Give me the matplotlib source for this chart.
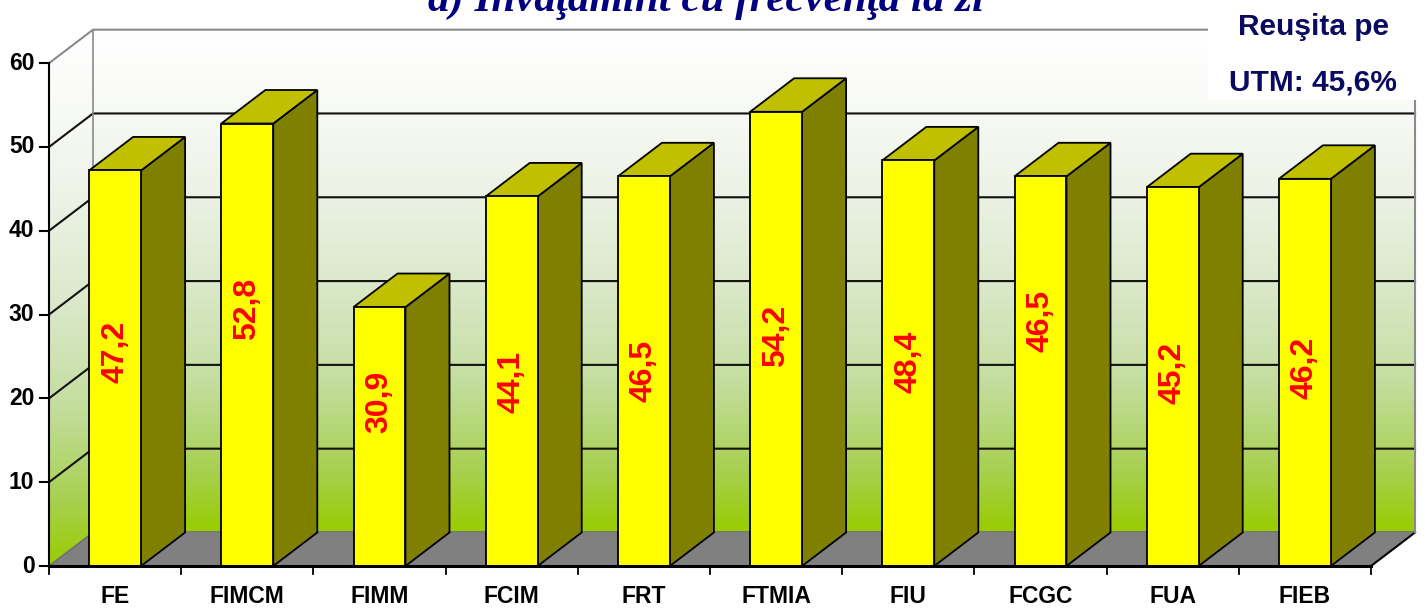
import numpy as np
import matplotlib
matplotlib.use("Agg")
import matplotlib.pyplot as plt
from matplotlib.patches import Polygon, Rectangle
from matplotlib.colors import LinearSegmentedColormap

# data
categories = ["FE", "FIMCM", "FIMM", "FCIM", "FRT", "FTMIA", "FIU", "FCGC", "FUA", "FIEB"]
values = [47.2, 52.8, 30.9, 44.1, 46.5, 54.2, 48.4, 46.5, 45.2, 46.2]
value_labels = ["47,2", "52,8", "30,9", "44,1", "46,5", "54,2", "48,4", "46,5", "45,2", "46,2"]
# labels were placed by hand in the original, so keep their heights too
label_heights = [25.5, 30.7, 19.6, 22.0, 23.3, 27.4, 24.3, 29.2, 23.0, 23.6]
y_ticks = [0, 10, 20, 30, 40, 50, 60]
title = "a) Învăţămînt cu frecvenţă la zi"
note_lines = ["Reuşita pe", "UTM: 45,6%"]

# 3D look: depth offset in data units, bar width
DX, DY = 0.333, 4.0
BAR_W = 0.393
YMAX = 60
n = len(categories)

fig = plt.figure(figsize=(14.26, 6.09), dpi=100)
ax = fig.add_axes([0, 0, 1, 1])
ax.set_xlim(-0.8707, 9.916)
ax.set_ylim(-5.131, 67.54)
ax.axis("off")

wall_cmap = LinearSegmentedColormap.from_list(
    "wall",
    [(0.0, "#99CC00"), (0.12, "#A8D050"), (0.3, "#C4DEA0"), (0.5, "#DCE9CC"),
     (0.7, "#EEF3E8"), (0.85, "#F8FAF6"), (1.0, "#FFFFFF")],
)
grad = np.linspace(0, 1, 256).reshape(-1, 1)

# back wall
x0, x1 = -0.5, n - 0.5
back = Polygon([(x0 + DX, DY), (x1 + DX, DY), (x1 + DX, YMAX + DY), (x0 + DX, YMAX + DY)],
               closed=True, facecolor="none", edgecolor="none")
ax.add_patch(back)
im = ax.imshow(grad, cmap=wall_cmap, origin="lower", aspect="auto",
               extent=(x0 + DX, x1 + DX, DY, YMAX + DY), zorder=0)
im.set_clip_path(back)

# left side wall
side = Polygon([(x0, 0), (x0 + DX, DY), (x0 + DX, YMAX + DY), (x0, YMAX)],
               closed=True, facecolor="none", edgecolor="none")
ax.add_patch(side)
im2 = ax.imshow(grad, cmap=wall_cmap, origin="lower", aspect="auto",
                extent=(x0, x0 + DX, 0, YMAX + DY), zorder=0)
im2.set_clip_path(side)

# floor
ax.add_patch(Polygon([(x0, 0), (x1, 0), (x1 + DX, DY), (x0 + DX, DY)], closed=True,
                     facecolor="#808080", edgecolor="none", zorder=1))
ax.plot([x0 + DX, x1 + DX], [DY, DY], color="#707070", lw=1.2, zorder=1)
ax.plot([x0, x0 + DX], [0, DY], color="#707070", lw=1.2, zorder=1)
ax.plot([x1, x1 + DX], [0, DY], color="black", lw=1.5, zorder=1)

# gridlines
for v in y_ticks[1:-1]:
    ax.plot([x0, x0 + DX, x1 + DX], [v, v + DY, v + DY], color="#111111", lw=1.5, zorder=1)

# wall outline
ax.plot([x0, x0 + DX, x1 + DX, x1 + DX], [YMAX, YMAX + DY, YMAX + DY, DY],
        color="#8a8a8a", lw=1.5, zorder=1)
ax.plot([x0 + DX, x0 + DX], [DY, YMAX + DY], color="#8a8a8a", lw=1.2, zorder=1)

# bars
for i, v in enumerate(values):
    l, r = i - BAR_W / 2, i + BAR_W / 2
    ax.add_patch(Polygon([(r, 0), (r + DX, DY), (r + DX, v + DY), (r, v)], closed=True,
                         facecolor="#808000", edgecolor="black", lw=1.3, zorder=2))
    ax.add_patch(Polygon([(l, v), (r, v), (r + DX, v + DY), (l + DX, v + DY)], closed=True,
                         facecolor="#C0C000", edgecolor="black", lw=1.3, zorder=2))
    ax.add_patch(Rectangle((l, 0), BAR_W, v, facecolor="#FFFF00", edgecolor="black",
                           lw=1.3, zorder=3))
    ax.text(i, label_heights[i], value_labels[i], rotation=90, ha="center", va="center",
            color="#FF0000", fontsize=23, fontweight="bold", family="Liberation Sans", zorder=4)

# axes lines and ticks
ax.plot([x0, x0], [0, YMAX], color="black", lw=1.5, zorder=3)
ax.plot([x0, x1], [0, 0], color="black", lw=2.2, zorder=3)
for v in y_ticks:
    ax.plot([x0 - 0.07, x0], [v, v], color="black", lw=1.5, zorder=3)
    ax.text(x0 - 0.11, v, str(v), ha="right", va="center", fontsize=16.5,
            fontweight="bold", family="Liberation Sans")
for b in np.arange(n + 1) - 0.5:
    ax.plot([b, b], [0, -1.0], color="black", lw=1.3, zorder=3)
for i, c in enumerate(categories):
    ax.text(i, -3.6, c, ha="center", va="center", fontsize=16.5,
            fontweight="bold", family="Liberation Sans")

# note box, top right
ax.add_patch(Rectangle((0.847, 0.836), 0.2, 0.2, transform=ax.transAxes,
                       facecolor="white", edgecolor="none", zorder=5))
ax.text(0.921, 0.956, note_lines[0], transform=ax.transAxes, ha="center", va="center",
        fontsize=21.5, fontweight="bold", color="#0A0A60", family="Liberation Sans", zorder=6)
ax.text(0.921, 0.865, note_lines[1], transform=ax.transAxes, ha="center", va="center",
        fontsize=21.5, fontweight="bold", color="#0A0A60", family="Liberation Sans", zorder=6)

# title, clipped at the top like the original
ax.text(0.495, 1 - 11 / 609, title, transform=ax.transAxes, ha="center", va="baseline",
        fontsize=31, fontweight="bold", style="italic", color="#000080",
        family="Liberation Serif", zorder=6)

fig.savefig("out.png", dpi=100)
